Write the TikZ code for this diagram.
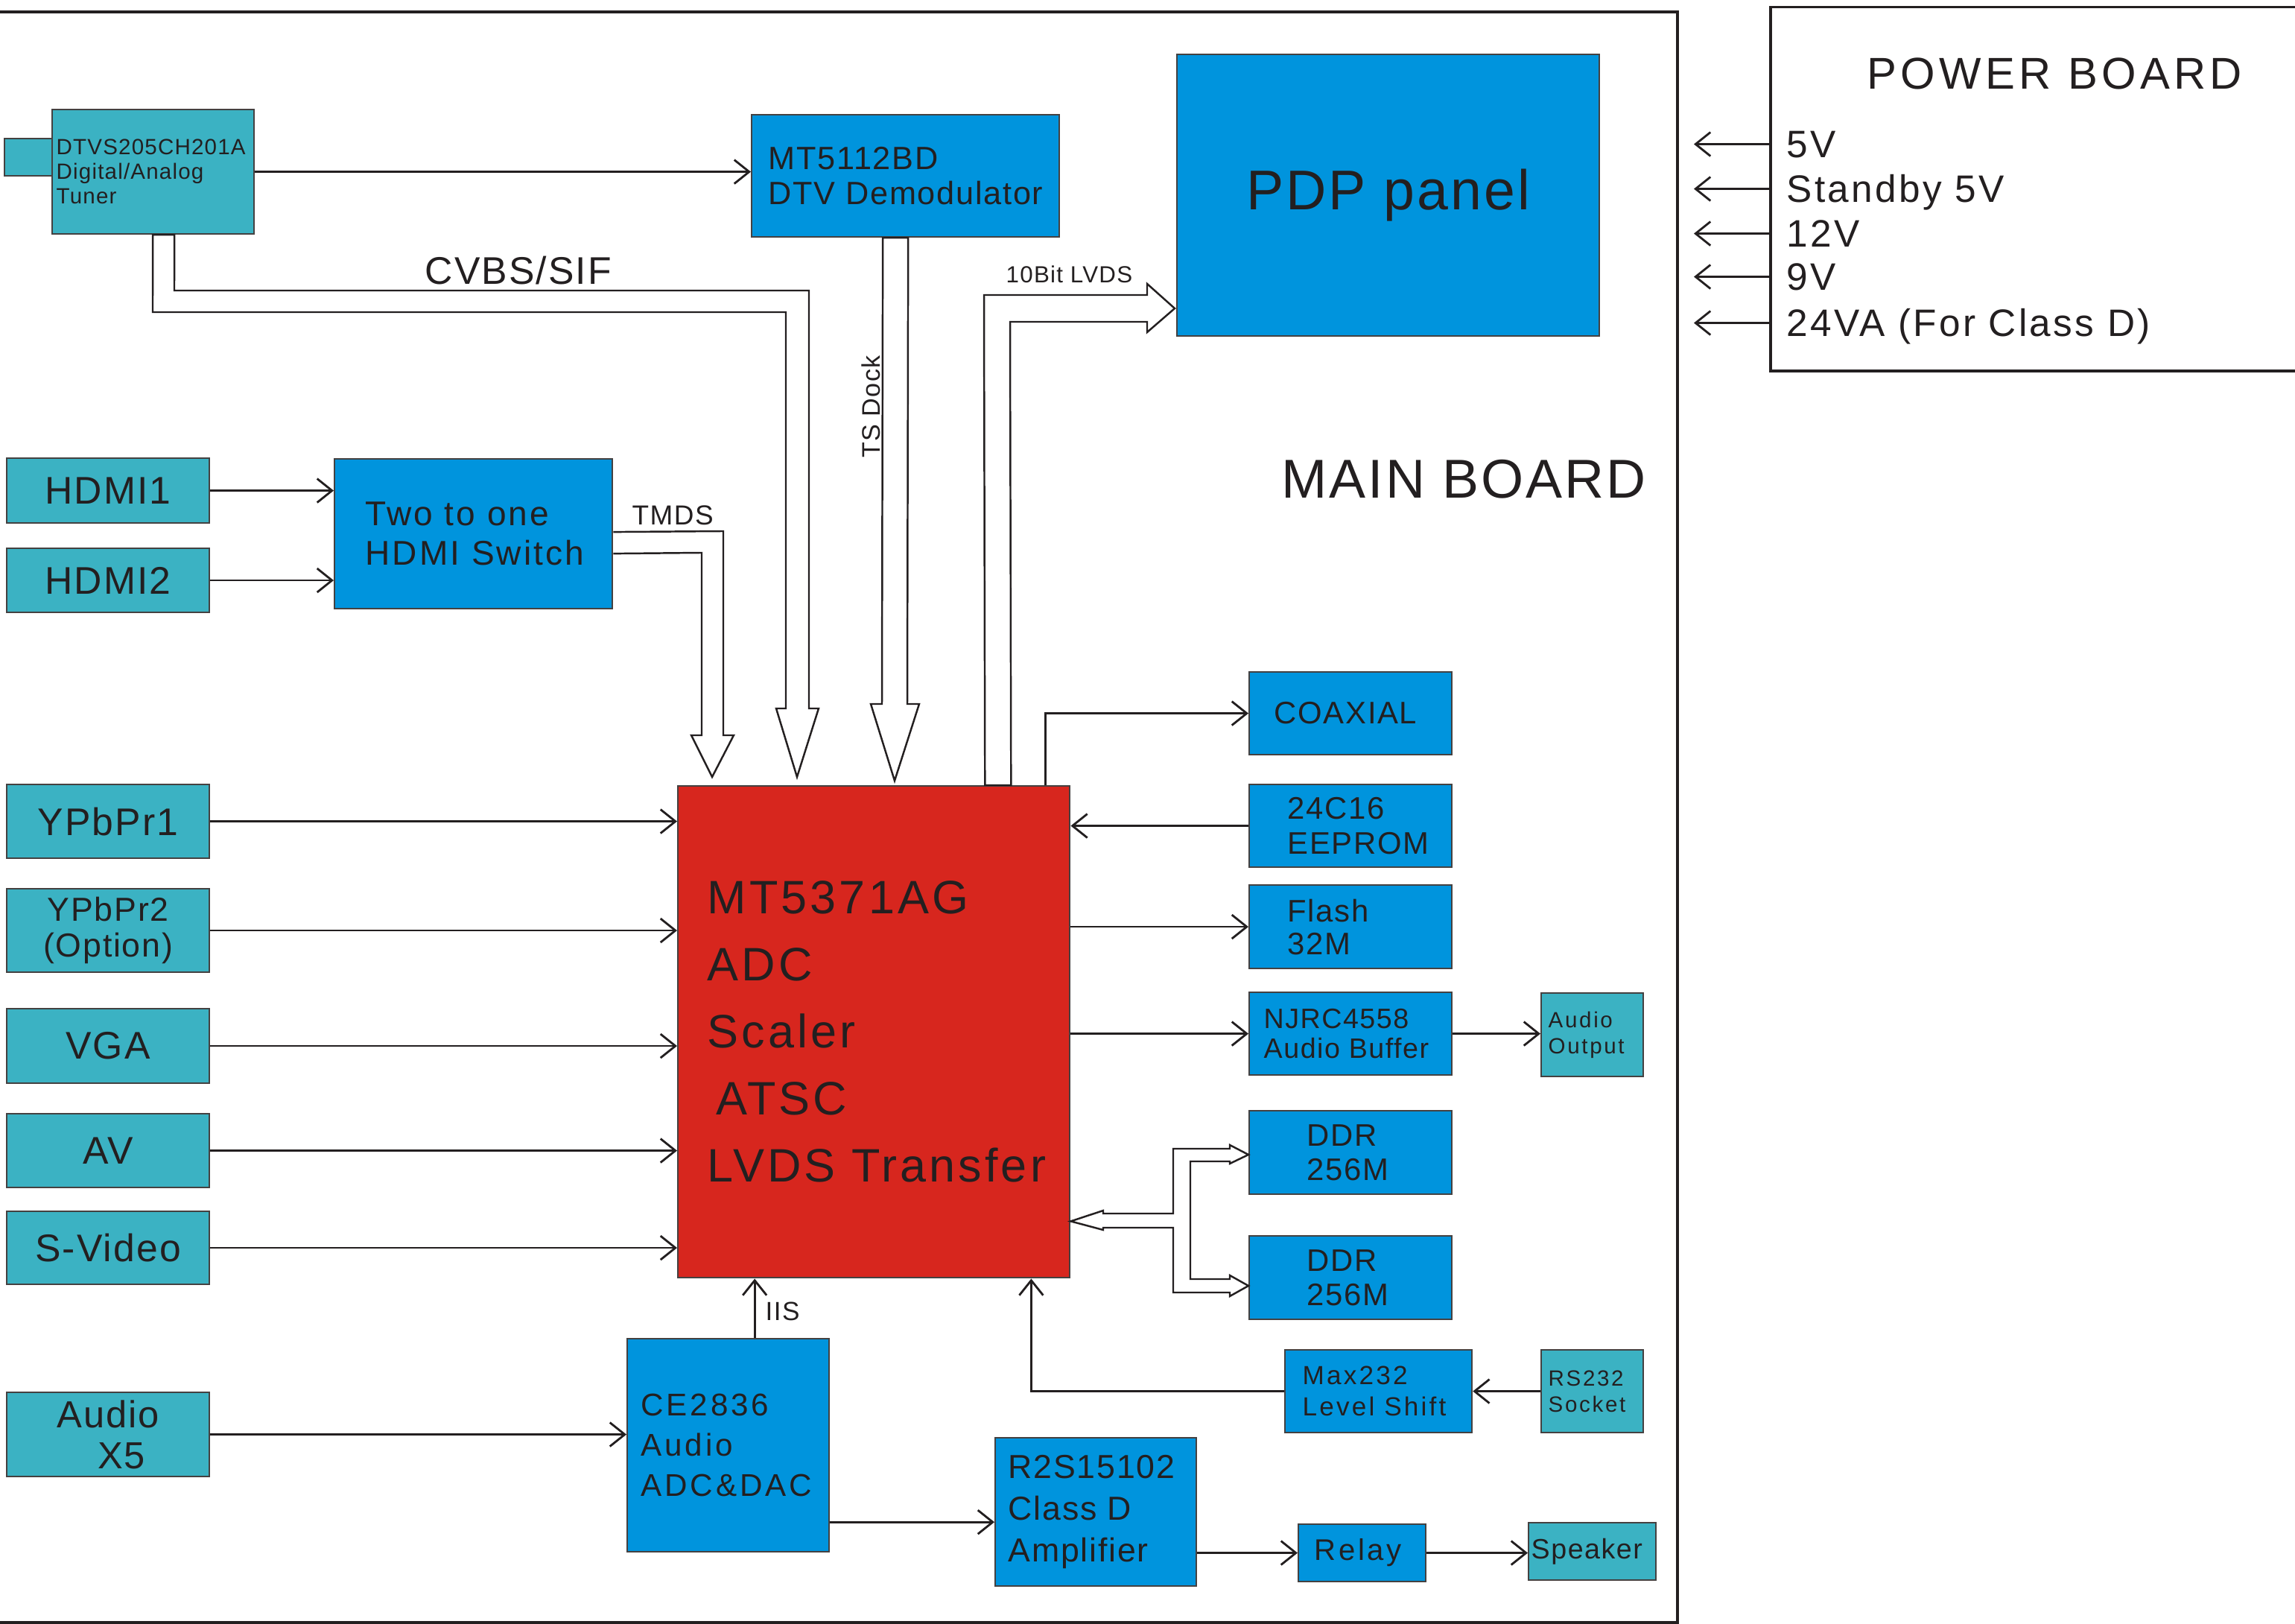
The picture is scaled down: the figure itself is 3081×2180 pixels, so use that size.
\documentclass[tikz,border=0pt]{standalone}
\usepackage{fontspec}
\setmainfont{Liberation Sans}[LetterSpace=4]
\newfontfamily\wfont{Liberation Sans}[LetterSpace=9]
\newfontfamily\mfont{Liberation Sans}[LetterSpace=6.5]
\usetikzlibrary{arrows.meta}
\definecolor{cteal}{RGB}{59,178,195}
\definecolor{cblue}{RGB}{0,148,221}
\definecolor{cred}{RGB}{215,38,30}
\definecolor{ctxt}{RGB}{35,31,32}
\newcommand{\fsz}[2]{\fontsize{#1}{#2}\selectfont}
\begin{document}
\begin{tikzpicture}[x=0.01cm,y=-0.01cm,
  box/.style={draw=ctxt!85, line width=0.6pt, rectangle, inner sep=0pt, anchor=north west, text=ctxt, align=center},
  tbox/.style={box, fill=cteal},
  bbox/.style={box, fill=cblue},
  tx/.style={anchor=west, inner sep=0pt, align=left, text=ctxt},
  lbl/.style={anchor=base west, inner sep=0pt, text=ctxt},
  arr/.style={draw=ctxt, line width=0.8pt, -{Straight Barb[length=2mm,width=3.2mm]}},
  hol/.style={draw=ctxt, line width=0.7pt, fill=white, line join=miter},
  inbox/.style={tbox, minimum width=2.72cm, font=\fsz{14.7}{16}}
]
\useasboundingbox (0,0) rectangle (3081,2180);
\fill[white] (0,0) rectangle (3081,2180);

% frames
\draw[ctxt, line width=1.1pt] (-10,16) rectangle (2252,2178);
\node[draw=ctxt, line width=1pt, minimum width=7.3cm, minimum height=4.88cm, anchor=north west, inner sep=0pt] (pb) at (2375,8) {};
\node[lbl, font=\wfont\fsz{17}{20}] (pbt) at (2506,120) {POWER BOARD};
\node[lbl, font=\fsz{20.9}{24}] (mbt) at (1720,669) {MAIN BOARD};

% power rails
\foreach \n/\yy/\t in {v1/212/5V, v2/272/Standby 5V, v3/332/12V, v4/390/9V, v5/452/24VA (For Class D)}{
  \node[lbl, font=\mfont\fsz{14.6}{17}, text height=10.5pt, text depth=0pt] (\n) at (2398,\yy) {\t};
  \draw[arr] (\n.west -| pb.west) -- ++(-101,0);
}

% tuner
\node[tbox, minimum width=0.64cm, minimum height=0.5cm] (tab) at (5,185) {};
\node[tbox, minimum width=2.71cm, minimum height=1.67cm] (tuner) at (69,146) {};
\node[tx, font=\fsz{8.4}{9.4}] (tuner-t) at ([xshift=0.06cm]tuner.west) {DTVS205CH201A\\Digital/Analog\\Tuner};

% demodulator
\node[bbox, minimum width=4.13cm, minimum height=1.64cm] (dem) at (1008,153) {};
\node[tx, font=\fsz{12.3}{13.4}] (dem-t) at ([xshift=0.23cm]dem.west) {MT5112BD\\DTV Demodulator};

% PDP panel
\node[bbox, minimum width=5.67cm, minimum height=3.78cm, font=\fsz{21.4}{24}] (pdp) at (1579,72) {PDP panel};

% HDMI
\node[inbox, minimum height=0.87cm] (hdmi1) at (8,614) {HDMI1};
\node[inbox, minimum height=0.86cm] (hdmi2) at (8,735) {HDMI2};
\node[bbox, minimum width=3.73cm, minimum height=2.01cm] (sw) at (448,615) {};
\node[tx, font=\mfont\fsz{13.1}{15.1}] (sw-t) at ([xshift=0.42cm]sw.west) {Two to one\\HDMI Switch};

% other inputs
\node[inbox, minimum height=0.99cm] (yp1) at (8,1052) {YPbPr1};
\node[inbox, minimum height=1.12cm, font=\fsz{12.7}{13.7}] (yp2) at (8,1192) {YPbPr2\\(Option)};
\node[inbox, minimum height=1.0cm] (vga) at (8,1353) {VGA};
\node[inbox, minimum height=0.99cm] (av) at (8,1494) {AV};
\node[inbox, minimum height=0.98cm] (sv) at (8,1625) {S-Video};
\node[inbox, minimum height=1.13cm, font=\fsz{14.4}{15.6}] (ax5) at (8,1868) {Audio\\\hspace*{0.36cm}X5};

% main chip
\node[box, fill=cred, minimum width=5.26cm, minimum height=6.6cm] (chip) at (909,1054) {};
\node[tx, font=\mfont\fsz{17.9}{25.6}] (chip-t) at ([xshift=0.4cm]chip.west) {MT5371AG\\ADC\\Scaler\\\hspace*{0.12cm}ATSC\\LVDS Transfer};

% right side
\node[bbox, minimum width=2.72cm, minimum height=1.11cm] (coax) at (1676,901) {};
\node[tx, font=\fsz{11.9}{13.1}] (coax-t) at ([xshift=0.34cm]coax.west) {COAXIAL};
\node[bbox, minimum width=2.72cm, minimum height=1.11cm] (eeprom) at (1676,1052) {};
\node[tx, font=\fsz{11.9}{13.1}] (eeprom-t) at ([xshift=0.52cm]eeprom.west) {24C16\\EEPROM};
\node[bbox, minimum width=2.72cm, minimum height=1.12cm] (flash) at (1676,1187) {};
\node[tx, font=\fsz{11.9}{12.5}] (flash-t) at ([xshift=0.52cm]flash.west) {Flash\\32M};
\node[bbox, minimum width=2.72cm, minimum height=1.11cm] (njrc) at (1676,1331) {};
\node[tx, font=\fsz{10.7}{11.4}] (njrc-t) at ([xshift=0.2cm]njrc.west) {NJRC4558\\Audio Buffer};
\node[tbox, minimum width=1.37cm, minimum height=1.12cm] (ao) at (2068,1332) {};
\node[tx, font=\wfont\fsz{8.4}{10}] (ao-t) at ([xshift=0.1cm]ao.west) {Audio\\Output};
\node[bbox, minimum width=2.72cm, minimum height=1.12cm] (ddr1) at (1676,1490) {};
\node[tx, font=\fsz{11.9}{13.1}] (ddr1-t) at ([xshift=0.78cm]ddr1.west) {DDR\\256M};
\node[bbox, minimum width=2.72cm, minimum height=1.12cm] (ddr2) at (1676,1658) {};
\node[tx, font=\fsz{11.9}{13.1}] (ddr2-t) at ([xshift=0.78cm]ddr2.west) {DDR\\256M};
\node[bbox, minimum width=2.51cm, minimum height=1.11cm] (max) at (1724,1811) {};
\node[tx, font=\wfont\fsz{10}{12}] (max-t) at ([xshift=0.24cm]max.west) {Max232\\Level Shift};
\node[tbox, minimum width=1.37cm, minimum height=1.11cm] (rs) at (2068,1811) {};
\node[tx, font=\wfont\fsz{8.4}{10}] (rs-t) at ([xshift=0.1cm]rs.west) {RS232\\Socket};

% audio chain
\node[bbox, minimum width=2.71cm, minimum height=2.86cm] (ce) at (841,1796) {};
\node[tx, font=\wfont\fsz{12}{15.4}] (ce-t) at ([xshift=0.19cm]ce.west) {CE2836\\Audio\\ADC\&DAC};
\node[bbox, minimum width=2.7cm, minimum height=1.99cm] (r2s) at (1335,1929) {};
\node[tx, font=\fsz{12.7}{16}] (r2s-t) at ([xshift=0.18cm]r2s.west) {R2S15102\\Class D\\Amplifier};
\node[bbox, minimum width=1.71cm, minimum height=0.77cm] (relay) at (1742,2045) {};
\node[tx, font=\wfont\fsz{11.4}{12}] (relay-t) at ([xshift=0.22cm]relay.west) {Relay};
\node[tbox, minimum width=1.71cm, minimum height=0.77cm] (spk) at (2051,2043) {};
\node[tx, font=\fsz{10.7}{12}] (spk-t) at ([xshift=0.04cm]spk.west) {Speaker};

% bus labels
\node[lbl, font=\fsz{14.7}{16}] (cvbs) at (570,382) {CVBS/SIF};
\node[lbl, font=\fsz{10.5}{12}] (tmds) at (848,705) {TMDS};
\node[lbl, font=\fsz{8.9}{10}] (lvds) at (1350,380) {10Bit LVDS};
\node[inner sep=0pt, text=ctxt, rotate=90, font=\fsz{9.7}{11}] (tsd) at (1169,546) {TS Dock};
\node[lbl, font=\fsz{10}{12}] (iis) at (1027,1772) {IIS};

% hollow bus arrows
\draw[hol] ([xshift=1.36cm]tuner.south west) -- (205,419) -- (1055,419) -- (1055,951) -- (1042,951) -- (1070,1043) -- (1099,951) -- (1086,951) -- (1086,390) -- (234,390) -- ([xshift=1.65cm]tuner.south west) -- cycle;
\draw[hol] ([yshift=0.025cm]sw.east) -- (971,713) -- (971,987) -- (985,987) -- (956,1043) -- (928,987) -- (942,987) -- (942,742) -- ([yshift=-0.265cm]sw.east);
\draw[hol] ([xshift=-0.305cm]dem.south) -- (1184,945) -- (1169,945) -- (1201,1048) -- (1234,945) -- (1218,945) -- ([xshift=0.035cm]dem.south) -- cycle;
\draw[hol] ([xshift=1.49cm]chip.north) -- (1321,396) -- (1540,396) -- (1540,381) -- (1577,414) -- (1540,446) -- (1540,432) -- (1356,432) -- ([xshift=1.84cm]chip.north) -- cycle;
\draw[hol] ([yshift=-2.54cm]chip.east) -- (1481,1625) -- (1481,1629) -- (1575,1629) -- (1575,1542) -- (1651,1542) -- (1651,1537) -- (1676,1550) -- (1651,1562) -- (1651,1559) -- (1598,1559) -- (1598,1717) -- (1651,1717) -- (1651,1712) -- (1676,1726) -- (1651,1740) -- (1651,1735) -- (1575,1735) -- (1575,1648) -- (1481,1648) -- (1481,1651) -- cycle;

% thin connectors
\draw[arr] (tuner.east) -- (tuner.east -| dem.west);
\draw[arr] (hdmi1.east) -- (hdmi1.east -| sw.west);
\draw[arr] (hdmi2.east) -- (hdmi2.east -| sw.west);
\foreach \n in {yp1,yp2,vga,av,sv}{
  \draw[arr] (\n.east) -- (\n.east -| chip.west);
}
\draw[arr] (ax5.east) -- (ax5.east -| ce.west);
\draw[arr] ([yshift=-1.03cm]ce.east) -- ([yshift=-1.03cm]ce.east -| r2s.west);
\draw[arr] (relay.west -| r2s.east) -- (relay.west);
\draw[arr] (relay.east) -- (relay.east -| spk.west);
\draw[arr] (rs.west) -- (rs.west -| max.east);
\draw[arr] (max.west) -| ([xshift=-0.53cm]chip.south east);
\draw[arr] ([xshift=0.355cm]ce.north) -- ([xshift=0.355cm]ce.north |- chip.south);
\draw[arr] ([xshift=-0.34cm]chip.north east) |- (coax.west);
\draw[arr] (eeprom.west) -- (eeprom.west -| chip.east);
\draw[arr] (flash.west -| chip.east) -- (flash.west);
\draw[arr] (njrc.west -| chip.east) -- (njrc.west);
\draw[arr] (njrc.east) -- (njrc.east -| ao.west);
\end{tikzpicture}
\end{document}
